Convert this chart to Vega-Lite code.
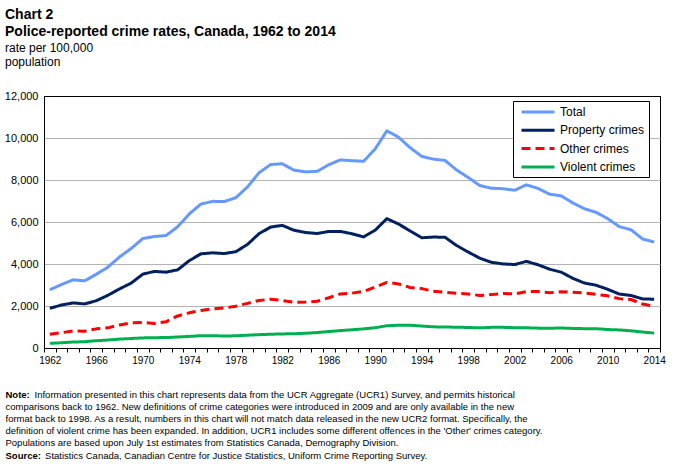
{
  "$schema": "https://vega.github.io/schema/vega-lite/v6.json",
  "width": 616,
  "height": 252,
  "autosize": {"type": "none"},
  "padding": {"left": 44, "top": 96, "right": 15, "bottom": 117},
  "background": "white",
  "config": {
    "font": "Liberation Sans",
    "axis": {"titleFont": "Liberation Sans", "labelFont": "Liberation Sans"},
    "view": {"stroke": "black", "strokeWidth": 1}
  },
  "title": {
    "text": ["Chart 2", "Police-reported crime rates, Canada, 1962 to 2014"],
    "subtitle": ["rate per 100,000", "population"],
    "anchor": "start",
    "frame": "group",
    "dx": -39,
    "fontSize": 14,
    "fontWeight": "bold",
    "lineHeight": 17,
    "color": "black",
    "subtitleFontSize": 12,
    "subtitleLineHeight": 14,
    "subtitlePadding": 4,
    "subtitleColor": "black",
    "offset": 22
  },
  "data": {
    "values": [
      {"year": 1962, "Total": 2771, "Property crimes": 1891, "Other crimes": 659, "Violent crimes": 221},
      {"year": 1963, "Total": 3022, "Property crimes": 2047, "Other crimes": 726, "Violent crimes": 249},
      {"year": 1964, "Total": 3245, "Property crimes": 2146, "Other crimes": 815, "Violent crimes": 284},
      {"year": 1965, "Total": 3199, "Property crimes": 2099, "Other crimes": 801, "Violent crimes": 299},
      {"year": 1966, "Total": 3511, "Property crimes": 2252, "Other crimes": 912, "Violent crimes": 347},
      {"year": 1967, "Total": 3850, "Property crimes": 2510, "Other crimes": 959, "Violent crimes": 381},
      {"year": 1968, "Total": 4336, "Property crimes": 2815, "Other crimes": 1098, "Violent crimes": 423},
      {"year": 1969, "Total": 4737, "Property crimes": 3090, "Other crimes": 1194, "Violent crimes": 453},
      {"year": 1970, "Total": 5212, "Property crimes": 3516, "Other crimes": 1215, "Violent crimes": 481},
      {"year": 1971, "Total": 5311, "Property crimes": 3648, "Other crimes": 1171, "Violent crimes": 492},
      {"year": 1972, "Total": 5355, "Property crimes": 3611, "Other crimes": 1247, "Violent crimes": 497},
      {"year": 1973, "Total": 5773, "Property crimes": 3722, "Other crimes": 1527, "Violent crimes": 524},
      {"year": 1974, "Total": 6388, "Property crimes": 4160, "Other crimes": 1675, "Violent crimes": 553},
      {"year": 1975, "Total": 6852, "Property crimes": 4484, "Other crimes": 1783, "Violent crimes": 585},
      {"year": 1976, "Total": 6984, "Property crimes": 4533, "Other crimes": 1867, "Violent crimes": 584},
      {"year": 1977, "Total": 6971, "Property crimes": 4496, "Other crimes": 1903, "Violent crimes": 572},
      {"year": 1978, "Total": 7154, "Property crimes": 4586, "Other crimes": 1988, "Violent crimes": 580},
      {"year": 1979, "Total": 7666, "Property crimes": 4929, "Other crimes": 2127, "Violent crimes": 610},
      {"year": 1980, "Total": 8343, "Property crimes": 5444, "Other crimes": 2263, "Violent crimes": 636},
      {"year": 1981, "Total": 8736, "Property crimes": 5759, "Other crimes": 2323, "Violent crimes": 654},
      {"year": 1982, "Total": 8773, "Property crimes": 5840, "Other crimes": 2262, "Violent crimes": 671},
      {"year": 1983, "Total": 8470, "Property crimes": 5608, "Other crimes": 2183, "Violent crimes": 679},
      {"year": 1984, "Total": 8387, "Property crimes": 5501, "Other crimes": 2185, "Violent crimes": 701},
      {"year": 1985, "Total": 8413, "Property crimes": 5451, "Other crimes": 2227, "Violent crimes": 735},
      {"year": 1986, "Total": 8727, "Property crimes": 5550, "Other crimes": 2392, "Violent crimes": 785},
      {"year": 1987, "Total": 8957, "Property crimes": 5553, "Other crimes": 2575, "Violent crimes": 829},
      {"year": 1988, "Total": 8919, "Property crimes": 5439, "Other crimes": 2612, "Violent crimes": 868},
      {"year": 1989, "Total": 8892, "Property crimes": 5289, "Other crimes": 2692, "Violent crimes": 911},
      {"year": 1990, "Total": 9485, "Property crimes": 5612, "Other crimes": 2906, "Violent crimes": 967},
      {"year": 1991, "Total": 10342, "Property crimes": 6160, "Other crimes": 3123, "Violent crimes": 1059},
      {"year": 1992, "Total": 10040, "Property crimes": 5904, "Other crimes": 3052, "Violent crimes": 1084},
      {"year": 1993, "Total": 9538, "Property crimes": 5575, "Other crimes": 2882, "Violent crimes": 1081},
      {"year": 1994, "Total": 9125, "Property crimes": 5250, "Other crimes": 2829, "Violent crimes": 1046},
      {"year": 1995, "Total": 8994, "Property crimes": 5283, "Other crimes": 2704, "Violent crimes": 1007},
      {"year": 1996, "Total": 8932, "Property crimes": 5273, "Other crimes": 2659, "Violent crimes": 1000},
      {"year": 1997, "Total": 8475, "Property crimes": 4880, "Other crimes": 2605, "Violent crimes": 990},
      {"year": 1998, "Total": 8121, "Property crimes": 4569, "Other crimes": 2575, "Violent crimes": 977},
      {"year": 1999, "Total": 7733, "Property crimes": 4276, "Other crimes": 2499, "Violent crimes": 958},
      {"year": 2000, "Total": 7607, "Property crimes": 4081, "Other crimes": 2542, "Violent crimes": 984},
      {"year": 2001, "Total": 7586, "Property crimes": 4004, "Other crimes": 2598, "Violent crimes": 984},
      {"year": 2002, "Total": 7512, "Property crimes": 3973, "Other crimes": 2572, "Violent crimes": 967},
      {"year": 2003, "Total": 7770, "Property crimes": 4124, "Other crimes": 2683, "Violent crimes": 963},
      {"year": 2004, "Total": 7600, "Property crimes": 3966, "Other crimes": 2688, "Violent crimes": 946},
      {"year": 2005, "Total": 7325, "Property crimes": 3752, "Other crimes": 2630, "Violent crimes": 943},
      {"year": 2006, "Total": 7245, "Property crimes": 3611, "Other crimes": 2683, "Violent crimes": 951},
      {"year": 2007, "Total": 6908, "Property crimes": 3319, "Other crimes": 2656, "Violent crimes": 933},
      {"year": 2008, "Total": 6631, "Property crimes": 3093, "Other crimes": 2618, "Violent crimes": 920},
      {"year": 2009, "Total": 6461, "Property crimes": 2990, "Other crimes": 2552, "Violent crimes": 919},
      {"year": 2010, "Total": 6159, "Property crimes": 2796, "Other crimes": 2483, "Violent crimes": 880},
      {"year": 2011, "Total": 5779, "Property crimes": 2568, "Other crimes": 2351, "Violent crimes": 860},
      {"year": 2012, "Total": 5632, "Property crimes": 2502, "Other crimes": 2310, "Violent crimes": 820},
      {"year": 2013, "Total": 5190, "Property crimes": 2338, "Other crimes": 2092, "Violent crimes": 760},
      {"year": 2014, "Total": 5046, "Property crimes": 2322, "Other crimes": 1990, "Violent crimes": 710}
    ]
  },
  "transform": [
    {"fold": ["Total", "Property crimes", "Other crimes", "Violent crimes"], "as": ["series", "rate"]}
  ],
  "layer": [
    {
      "mark": {"type": "line", "strokeWidth": 3, "strokeJoin": "round"},
      "encoding": {
        "x": {
          "field": "year",
          "type": "ordinal",
          "bandPosition": 0.5,
          "scale": {"type": "band", "paddingInner": 0, "paddingOuter": 0},
          "axis": {
            "orient": "bottom",
            "labelExpr": "(datum.value - 1962) % 4 == 0 ? datum.value : ''",
            "labelAngle": 0,
            "labelFontSize": 10,
            "labelColor": "black",
            "labelPadding": 3,
            "labelOverlap": false,
            "tickBand": "extent",
            "tickColor": "black",
            "tickSize": 4,
            "domainColor": "black",
            "grid": false,
            "title": [
              "\u200b\u00a0\u00a0\u00a0\u00a0\u00a0\u00a0\u00a0\u00a0\u00a0\u00a0\u00a0Information presented in this chart represents data from the UCR  Aggregate (UCR1) Survey, and permits historical",
              "comparisons back to 1962. New  definitions of crime categories were introduced in 2009 and are only available in the new",
              "format back to 1998. As a result, numbers in this chart will not match data released in the new UCR2 format. Specifically,  the",
              "definition of violent crime has been expanded.  In addition, UCR1 includes some different offences in the 'Other' crimes category.",
              "Populations are based upon July 1st  estimates from Statistics Canada, Demography Division.",
              "\u200b\u00a0\u00a0\u00a0\u00a0\u00a0\u00a0\u00a0\u00a0\u00a0\u00a0\u00a0\u00a0\u00a0\u00a0\u00a0Statistics Canada, Canadian Centre for Justice Statistics, Uniform Crime Reporting Survey."
            ],
            "titleFontSize": 9.5,
            "titleFontWeight": "normal",
            "titleColor": "black",
            "titleAlign": "left",
            "titleAnchor": "start",
            "titleBaseline": "alphabetic",
            "titleLineHeight": 12.2,
            "titleX": -39,
            "titleY": 49
          }
        },
        "y": {
          "field": "rate",
          "type": "quantitative",
          "scale": {"domain": [0, 12000]},
          "axis": {
            "values": [0, 2000, 4000, 6000, 8000, 10000, 12000],
            "labelExpr": "datum.value == 0 ? '0' : floor(datum.value / 1000) + ',000'",
            "labelFontSize": 11,
            "labelColor": "black",
            "labelPadding": 6,
            "ticks": false,
            "domainColor": "black",
            "grid": true,
            "gridColor": {"condition": {"test": "datum.value == 0 || datum.value == 12000", "value": "black"}, "value": "#b3b3b3"},
            "title": "Source:",
            "titleFontSize": 9.5,
            "titleFontWeight": "bold",
            "titleColor": "black",
            "titleAngle": 0,
            "titleAlign": "left",
            "titleAnchor": "start",
            "titleBaseline": "alphabetic",
            "titleX": -39,
            "titleY": 362
          }
        },
        "color": {
          "field": "series",
          "type": "nominal",
          "sort": ["Total", "Property crimes", "Other crimes", "Violent crimes"],
          "scale": {
            "domain": ["Total", "Property crimes", "Other crimes", "Violent crimes"],
            "range": ["#6699ff", "#002060", "#ff0000", "#00b050"]
          },
          "legend": {
            "title": null,
            "orient": "none",
            "legendX": 469,
            "legendY": 5,
            "symbolType": "M-3,0H3",
            "symbolSize": 121,
            "symbolStrokeWidth": 3,
            "symbolOffset": 14,
            "labelFontSize": 12,
            "labelColor": "black",
            "labelOffset": 15,
            "rowPadding": 5.3,
            "padding": 4,
            "fillColor": "white",
            "strokeColor": "black"
          }
        },
        "strokeDash": {
          "field": "series",
          "type": "nominal",
          "sort": ["Total", "Property crimes", "Other crimes", "Violent crimes"],
          "scale": {
            "domain": ["Total", "Property crimes", "Other crimes", "Violent crimes"],
            "range": [[1, 0], [1, 0], [9, 5], [1, 0]]
          },
          "legend": {
            "title": null,
            "orient": "none",
            "legendX": 469,
            "legendY": 5,
            "symbolType": "M-3,0H3",
            "symbolSize": 121,
            "symbolStrokeWidth": 3,
            "symbolOffset": 14,
            "labelFontSize": 12,
            "labelColor": "black",
            "labelOffset": 15,
            "rowPadding": 5.3,
            "padding": 4,
            "fillColor": "white",
            "strokeColor": "black"
          }
        }
      }
    },
    {
      "mark": {"type": "point", "opacity": 0},
      "encoding": {
        "x": {
          "field": "year",
          "type": "ordinal",
          "axis": {
            "orient": "bottom",
            "labels": false,
            "ticks": false,
            "domain": false,
            "grid": false,
            "title": "Note:",
            "titleFontSize": 9.5,
            "titleFontWeight": "bold",
            "titleColor": "black",
            "titleAlign": "left",
            "titleAnchor": "start",
            "titleBaseline": "alphabetic",
            "titleX": -39,
            "titleY": 49
          }
        }
      }
    }
  ],
  "resolve": {"axis": {"x": "independent"}}
}
